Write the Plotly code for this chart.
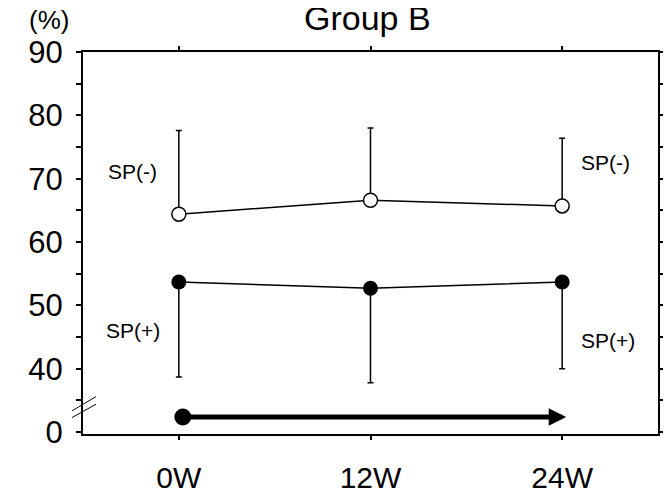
import plotly.graph_objects as go

# weeks on the x axis
weeks = [0, 12, 24]
week_labels = ["0W", "12W", "24W"]

# SP(-) group: mean and upper error end
sp_minus = [64.4, 66.6, 65.7]
sp_minus_top = [77.6, 78.0, 76.4]

# SP(+) group: mean and lower error end
sp_plus = [53.7, 52.7, 53.7]
sp_plus_bottom = [38.7, 37.8, 40.0]

# y axis: 30 on the plot stands for the broken "0"
y_tick_vals = [30, 40, 50, 60, 70, 80, 90]
y_tick_text = ["0", "40", "50", "60", "70", "80", "90"]
y_minor_vals = [35, 45, 55, 65, 75, 85]

FONT = "Liberation Sans, Arial, sans-serif"

fig = go.Figure()

fig.add_trace(go.Scatter(
    x=weeks, y=sp_minus, mode="lines+markers",
    line=dict(color="black", width=1.5),
    marker=dict(size=14, color="white", line=dict(color="black", width=1.5)),
    error_y=dict(type="data", symmetric=False,
                 array=[t - m for t, m in zip(sp_minus_top, sp_minus)],
                 arrayminus=[0, 0, 0],
                 color="black", thickness=1.5, width=3),
    showlegend=False,
))

fig.add_trace(go.Scatter(
    x=weeks, y=sp_plus, mode="lines+markers",
    line=dict(color="black", width=1.5),
    marker=dict(size=15, color="black"),
    error_y=dict(type="data", symmetric=False,
                 array=[0, 0, 0],
                 arrayminus=[m - b for m, b in zip(sp_plus, sp_plus_bottom)],
                 color="black", thickness=1.5, width=3),
    showlegend=False,
))

# start dot of the treatment arrow
fig.add_trace(go.Scatter(
    x=[0.25], y=[32.4], mode="markers",
    marker=dict(size=17, color="black"), showlegend=False,
))

annotations = [
    dict(x=24.25, y=32.4, ax=0.25, ay=32.4, xref="x", yref="y", axref="x", ayref="y",
         showarrow=True, arrowhead=2, arrowsize=0.7, arrowwidth=5, arrowcolor="black", text=""),
    dict(x=-2.9, y=71.2, text="SP(-)", showarrow=False, xref="x", yref="y"),
    dict(x=26.7, y=72.6, text="SP(-)", showarrow=False, xref="x", yref="y"),
    dict(x=-2.9, y=46.0, text="SP(+)", showarrow=False, xref="x", yref="y"),
    dict(x=26.85, y=44.4, text="SP(+)", showarrow=False, xref="x", yref="y"),
    dict(x=0.494, y=1.09, xref="paper", yref="paper", xanchor="center", yanchor="middle",
         text="Group B", showarrow=False, font=dict(size=34)),
    dict(x=-0.059, y=1.084, xref="paper", yref="paper", xanchor="center", yanchor="middle",
         text="(%)", showarrow=False, font=dict(size=26)),
]

# axis break marks
shapes = [
    dict(type="line", xref="paper", yref="y", x0=-0.019, y0=33.36, x1=0.0226, y1=35.6,
         line=dict(color="black", width=1)),
    dict(type="line", xref="paper", yref="y", x0=-0.019, y0=32.3, x1=0.0226, y1=34.4,
         line=dict(color="black", width=1)),
]

# page body has an 8px margin, so the figure is 8px smaller each way
fig.update_layout(
    width=663, height=485,
    margin=dict(l=75, r=13, t=44, b=59),
    plot_bgcolor="white", paper_bgcolor="white",
    font=dict(family=FONT, size=21, color="black"),
    annotations=annotations, shapes=shapes,
)

fig.update_xaxes(
    range=[-6, 30], tickvals=weeks, ticktext=week_labels,
    showline=True, linecolor="black", linewidth=2, mirror="ticks",
    ticks="outside", ticklen=4, tickwidth=1.5, tickcolor="black",
    tickfont=dict(size=30), ticklabelstandoff=12, automargin=False,
    showgrid=False, zeroline=False,
)
fig.update_yaxes(
    range=[29.7, 90], tickvals=y_tick_vals, ticktext=y_tick_text,
    showline=True, linecolor="black", linewidth=2, mirror="ticks",
    ticks="outside", ticklen=5, tickwidth=1.5, tickcolor="black",
    tickfont=dict(size=31), ticklabelstandoff=7, automargin=False,
    minor=dict(tickvals=y_minor_vals, ticks="outside", ticklen=5, tickwidth=1.5, tickcolor="black"),
    showgrid=False, zeroline=False,
)

fig.write_html("out.html")
